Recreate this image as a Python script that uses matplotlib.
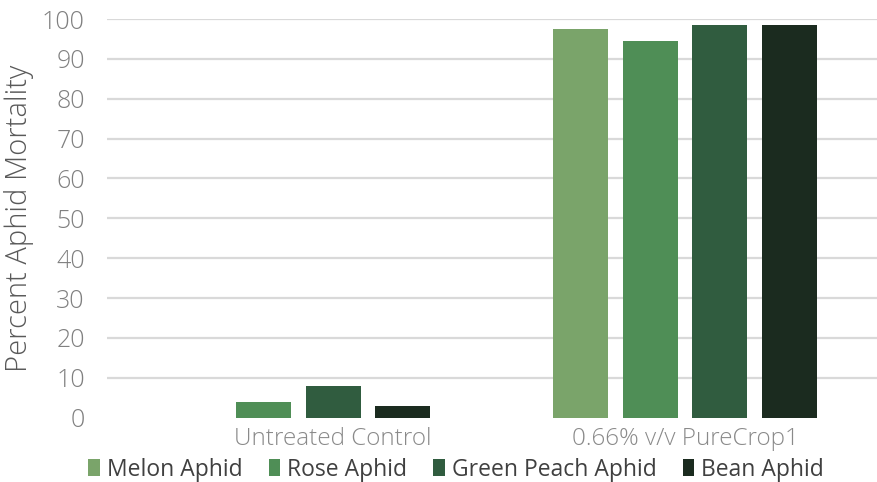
import matplotlib
matplotlib.use("Agg")
import matplotlib.pyplot as plt
from matplotlib.patches import Patch

categories = ["Untreated Control", "0.66% v/v PureCrop1"]
series_names = ["Melon Aphid", "Rose Aphid", "Green Peach Aphid", "Bean Aphid"]
melon = [None, 97.4]
rose = [3.9, 94.4]
green_peach = [7.9, 98.4]
bean = [2.9, 98.4]
y_ticks = [0, 10, 20, 30, 40, 50, 60, 70, 80, 90, 100]

colors = ["#7AA46A", "#4F8E56", "#305C3F", "#1B2B1F"]
values = [melon, rose, green_peach, bean]

plt.rcParams['font.family'] = ['Open Sans', 'DejaVu Sans']

fig = plt.figure(figsize=(8.77, 4.82), dpi=100)
ax = fig.add_axes([107/877, 1 - 417.7/482, 770/877, (417.7 - 19)/482])

bar_w = 55/352
step = 69.5/352
for ci, cat in enumerate(categories):
    present = [si for si in range(len(series_names)) if values[si][ci] is not None]
    n = len(present)
    for k, si in enumerate(present):
        ax.bar(ci + (k - (n - 1)/2) * step, values[si][ci], width=bar_w,
               color=colors[si], zorder=3)

ax.set_xlim(-226/352, 1 + 192/352)
ax.set_ylim(0, 100)
ax.set_yticks(y_ticks)
ax.set_yticklabels([str(t) for t in y_ticks], fontsize=18, color="#808080",
                   fontweight="light")
ax.set_xticks(range(len(categories)))
ax.set_xticklabels(categories, fontsize=17.5, color="#8a8a8a", fontweight="light")
ax.tick_params(axis='y', length=0, pad=16)
ax.tick_params(axis='x', length=0, pad=7)
ax.grid(axis='y', color="#d9d9d9", linewidth=1.6, zorder=0)
ax.yaxis.get_gridlines()[0].set_visible(False)
for s in ax.spines.values():
    s.set_visible(False)

ax.set_ylabel("Percent Aphid Mortality", fontsize=21, color="#595959",
              fontweight="light")
ax.yaxis.set_label_coords(-0.095, 0.5)

handles = [Patch(facecolor=c, edgecolor='none') for c in colors]
fig.legend(handles, series_names, loc='center', bbox_to_anchor=(456/877, 1 - 469.5/482),
           ncol=4, frameon=False, fontsize=16.5, handlelength=0.5, handleheight=0.7,
           handletextpad=0.3, columnspacing=1.15, labelcolor="#404040",
           borderpad=0, borderaxespad=0)

fig.savefig("out.png", dpi=100)
